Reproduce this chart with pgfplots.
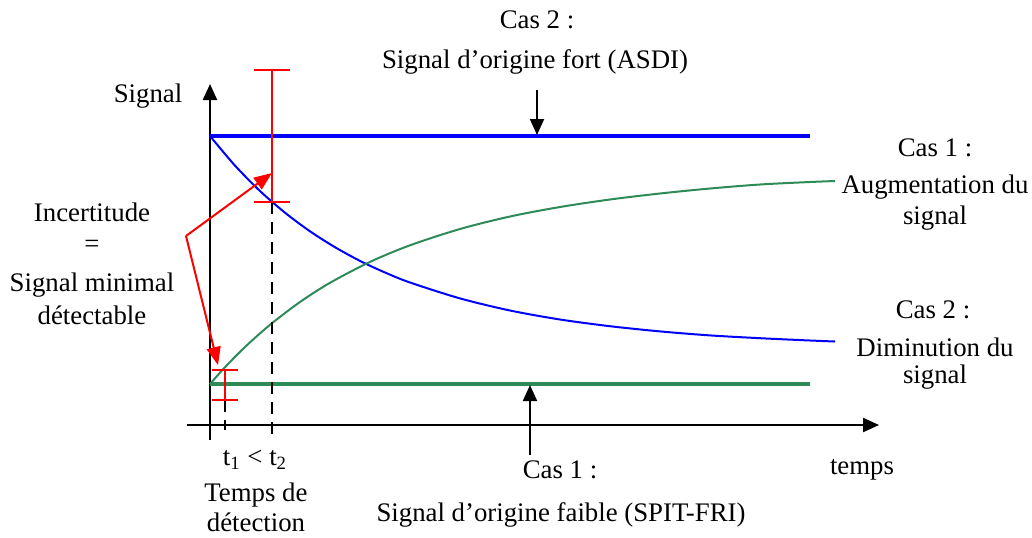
\documentclass[border=0pt]{standalone}
\usepackage{fontspec}
\setmainfont{Liberation Serif}
\usepackage{pgfplots}
\pgfplotsset{compat=1.18}
\usetikzlibrary{arrows.meta}
\definecolor{myblue}{RGB}{0,0,255}
\definecolor{mygreen}{RGB}{46,139,87}
\definecolor{myred}{RGB}{255,0,0}
\tikzset{lab/.style={font=\fontsize{13.4}{15}\selectfont, align=center, inner sep=0pt}}
\begin{document}
\begin{tikzpicture}
\begin{axis}[
  width=516pt, height=268.5pt, scale only axis,
  xmin=0, xmax=1032, ymin=0, ymax=537,
  hide axis, clip=false,
]
% bounding box
\addplot[draw=none] coordinates {(0,0) (1032,537)};
% axes
\addplot[black, line width=1.1pt, -{Triangle[length=8pt,width=7pt]}] coordinates {(210,97) (210,453)};
\addplot[black, line width=1.1pt, -{Triangle[length=8pt,width=7pt]}] coordinates {(187,112) (879,112)};
% thick horizontal lines
\addplot[myblue, line width=2pt] coordinates {(210,401) (810,401)};
\addplot[mygreen, line width=2pt] coordinates {(210,153) (810,153)};
% blue decreasing curve
\addplot[myblue, line width=1pt, smooth] coordinates {
 (210,401) (235,371.4) (260,346) (285,324.3) (310,305.7) (335,289.8) (360,276.1)
 (385,264.5) (410,254.5) (460,238.6) (510,226.5) (560,217.5) (610,210.8)
 (660,205.6) (710,201.6) (760,198.8) (810,196.5) (835,195.5)};
% green increasing curve
\addplot[mygreen, line width=1pt, smooth] coordinates {
 (210,153) (225,169.8) (245,190) (270,212.2) (300,235) (330,254.2) (370,275.1)
 (410,291.7) (460,308) (510,320.5) (560,330) (610,337.5) (660,343.5)
 (710,348.5) (760,352.5) (810,355) (835,356)};
% dashed lines
\addplot[black, line width=1pt, dash pattern=on 6pt off 4pt] coordinates {(272,335) (272,102)};
\addplot[black, line width=1pt, dash pattern=on 6pt off 4pt] coordinates {(225,137) (225,107)};
% red error bars
\addplot[myred, line width=1pt] coordinates {(272,467) (272,335)};
\addplot[myred, line width=1pt] coordinates {(254,467) (290,467)};
\addplot[myred, line width=1pt] coordinates {(254,335) (290,335)};
\addplot[myred, line width=1pt] coordinates {(225,167) (225,137)};
\addplot[myred, line width=1pt] coordinates {(212,167) (238,167)};
\addplot[myred, line width=1pt] coordinates {(212,137) (238,137)};
% red arrows
\addplot[myred, line width=1pt, -{Triangle[length=9pt,width=7pt]}] coordinates {(186,301) (272,364)};
\addplot[myred, line width=1pt, -{Triangle[length=9pt,width=7pt]}] coordinates {(186,301) (218,172)};
% black pointer arrows
\addplot[black, line width=1pt, -{Triangle[length=8pt,width=7pt]}] coordinates {(537,447) (537,402)};
\addplot[black, line width=1pt, -{Triangle[length=8pt,width=7pt]}] coordinates {(530,82) (530,152)};
% texts
\node[lab] at (axis cs:537,517) {Cas 2 :};
\node[lab] at (axis cs:535,475) {Signal d’origine fort (ASDI)};
\node[lab] at (axis cs:148,441) {Signal};
\node[lab] at (axis cs:935,389) {Cas 1 :};
\node[lab] at (axis cs:935,350) {Augmentation du};
\node[lab] at (axis cs:935,319) {signal};
\node[lab] at (axis cs:92,325) {Incertitude};
\node[lab] at (axis cs:92,291) {=};
\node[lab] at (axis cs:92,252) {Signal minimal};
\node[lab] at (axis cs:92,222) {détectable};
\node[lab] at (axis cs:933,227) {Cas 2 :};
\node[lab] at (axis cs:935,190) {Diminution du};
\node[lab] at (axis cs:935,160) {signal};
\node[lab] at (axis cs:255,77) {t\textsubscript{1} < t\textsubscript{2}};
\node[lab] at (axis cs:256,42) {Temps de};
\node[lab] at (axis cs:256,15) {détection};
\node[lab] at (axis cs:560,67) {Cas 1 :};
\node[lab] at (axis cs:561,22) {Signal d’origine faible (SPIT-FRI)};
\node[lab] at (axis cs:862,67) {temps};
\end{axis}
\end{tikzpicture}
\end{document}
